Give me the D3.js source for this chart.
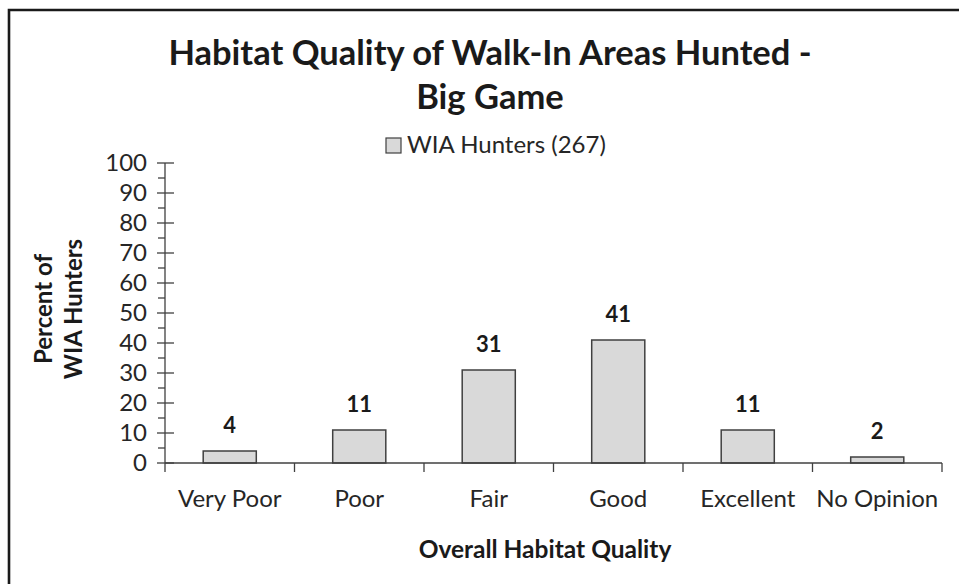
<!DOCTYPE html>
<html>
<head>
<meta charset="utf-8">
<script src="https://cdn.jsdelivr.net/npm/d3@7"></script>
<style>
  html, body { margin: 0; padding: 0; background: #fff; }
  svg { display: block; font-family: Lato, "Open Sans", sans-serif; }
</style>
</head>
<body>
<svg id="chart" width="959" height="584"></svg>
<script>
// Survey responses: overall habitat quality of Walk-In Areas hunted (big game)
const categories = ["Very Poor", "Poor", "Fair", "Good", "Excellent", "No Opinion"];
const percents = [4, 11, 31, 41, 11, 2];
const yTicks = [0, 10, 20, 30, 40, 50, 60, 70, 80, 90, 100];
const seriesName = "WIA Hunters (267)";
const titleLines = ["Habitat Quality of Walk-In Areas Hunted -", "Big Game"];
const yTitleLines = ["Percent of", "WIA Hunters"];
const xTitle = "Overall Habitat Quality";

const svg = d3.select("#chart");
const ink = "#1a1a1a";
const axisInk = "#404040";

// Chart frame (left and top edges)
svg.append("path")
  .attr("d", "M9,584 L9,10 L959,10")
  .attr("fill", "none").attr("stroke", ink).attr("stroke-width", 2.6);

const plot = { left: 165, right: 942, top: 163, bottom: 463 };

const x = d3.scaleBand().domain(categories)
  .range([plot.left, plot.right]).paddingInner(0.59).paddingOuter(0.295);
const y = d3.scaleLinear().domain([0, 100]).range([plot.bottom, plot.top]);

// Title
svg.append("g").selectAll("text").data(titleLines).join("text")
  .attr("x", 490).attr("y", (d, i) => 65 + i * 44)
  .attr("text-anchor", "middle")
  .attr("font-weight", "bold").attr("font-size", 34.5).attr("fill", ink)
  .text(d => d);

// Legend
const lg = svg.append("g");
lg.append("rect").attr("x", 386).attr("y", 138).attr("width", 15).attr("height", 15)
  .attr("fill", "#d9d9d9").attr("stroke", axisInk).attr("stroke-width", 1.2);
lg.append("text").attr("x", 407).attr("y", 153)
  .attr("font-size", 24).attr("fill", "#262626").text(seriesName);

// Y axis: minor ticks outside, major ticks crossing the axis
const minor = d3.range(5, 100, 10);
svg.append("g").selectAll("line").data(minor).join("line")
  .attr("x1", plot.left - 7).attr("x2", plot.left)
  .attr("y1", d => y(d)).attr("y2", d => y(d))
  .attr("stroke", axisInk).attr("stroke-width", 1.3);
svg.append("g").selectAll("line").data(yTicks).join("line")
  .attr("x1", plot.left - 8).attr("x2", plot.left + 9)
  .attr("y1", d => y(d)).attr("y2", d => y(d))
  .attr("stroke", axisInk).attr("stroke-width", 1.3);
svg.append("line")
  .attr("x1", plot.left).attr("x2", plot.left)
  .attr("y1", plot.top).attr("y2", plot.bottom)
  .attr("stroke", axisInk).attr("stroke-width", 1.3);
svg.append("g").selectAll("text").data(yTicks).join("text")
  .attr("x", 147).attr("y", d => y(d) + 8)
  .attr("text-anchor", "end").attr("font-size", 24).attr("fill", "#262626")
  .text(d => d);

// Y axis title
svg.append("g").attr("transform", "translate(0,309) rotate(-90)")
  .selectAll("text").data(yTitleLines).join("text")
  .attr("x", 0).attr("y", (d, i) => 52 + i * 30)
  .attr("text-anchor", "middle")
  .attr("font-weight", "bold").attr("font-size", 24).attr("fill", ink)
  .text(d => d);

// Bars
svg.append("g").selectAll("rect").data(percents).join("rect")
  .attr("x", (d, i) => x(categories[i]))
  .attr("y", d => y(d))
  .attr("width", x.bandwidth())
  .attr("height", d => plot.bottom - y(d))
  .attr("fill", "#d9d9d9").attr("stroke", axisInk).attr("stroke-width", 1.5);

// X axis line and category boundary ticks
const step = x.step();
const bounds = d3.range(categories.length + 1).map(i => plot.left + i * step);
svg.append("line")
  .attr("x1", plot.left).attr("x2", plot.right)
  .attr("y1", plot.bottom).attr("y2", plot.bottom)
  .attr("stroke", axisInk).attr("stroke-width", 1.3);
svg.append("g").selectAll("line").data(bounds).join("line")
  .attr("x1", d => d).attr("x2", d => d)
  .attr("y1", plot.bottom).attr("y2", plot.bottom + 9)
  .attr("stroke", axisInk).attr("stroke-width", 1.3);

// Value labels
svg.append("g").selectAll("text").data(percents).join("text")
  .attr("x", (d, i) => x(categories[i]) + x.bandwidth() / 2)
  .attr("y", d => y(d) - 18)
  .attr("text-anchor", "middle")
  .attr("font-weight", "bold").attr("font-size", 22).attr("fill", ink)
  .text(d => d);

// Category labels
svg.append("g").selectAll("text").data(categories).join("text")
  .attr("x", d => x(d) + x.bandwidth() / 2)
  .attr("y", 507)
  .attr("text-anchor", "middle").attr("font-size", 24).attr("fill", "#262626")
  .text(d => d);

// X axis title
svg.append("text").attr("x", 545).attr("y", 558)
  .attr("text-anchor", "middle")
  .attr("font-weight", "bold").attr("font-size", 24.5).attr("fill", ink)
  .text(xTitle);
</script>
</body>
</html>
